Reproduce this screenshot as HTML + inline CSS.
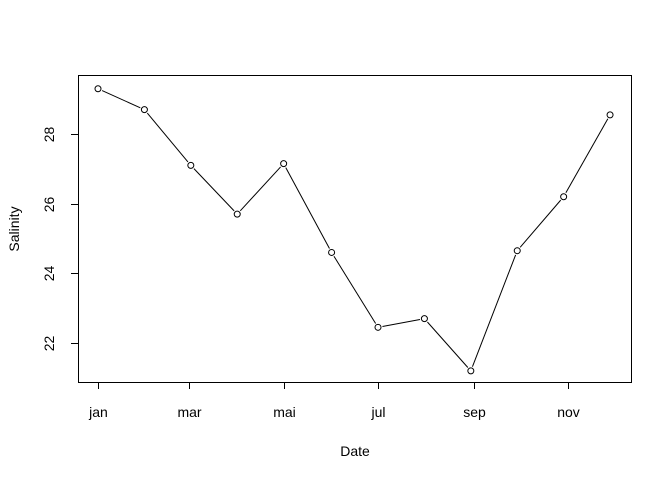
<!DOCTYPE html>
<html><head><meta charset="utf-8"><style>
body{margin:0;background:#fff}
svg{display:block;font-family:"Liberation Sans",Arial,sans-serif}
</style></head><body>
<svg id="chart" width="672" height="480" viewBox="0 0 672 480">
<rect x="78.5" y="75.5" width="553" height="307" fill="none" stroke="#000"/>
<g id="xaxis"></g>
<g id="yaxis"></g>
<g id="series"></g>
<text x="355" y="456" text-anchor="middle" font-size="14">Date</text>
<text x="19" y="229" text-anchor="middle" font-size="14" transform="rotate(-90 19 229)">Salinity</text>
</svg>
<script>
const sampleDays = [0, 30, 60, 90, 120, 151, 181, 211, 241, 271, 301, 331];
const salinity = [29.3, 28.7, 27.1, 25.7, 27.15, 24.6, 22.45, 22.7, 21.2, 24.65, 26.2, 28.55];
const xTickLabels = ["jan","mar","mai","jul","sep","nov"];
const xTickDays = [0, 59, 120, 181, 243, 304];
const yTicks = [22, 24, 26, 28];

const NS = "http://www.w3.org/2000/svg";
function xs(d){ return 98 + d * 1.547; }
function ys(v){ return 343 - (v - 22) * 34.83; }
function mk(tag, attrs, parent){
  const e = document.createElementNS(NS, tag);
  for (const k in attrs) e.setAttribute(k, attrs[k]);
  parent.appendChild(e); return e;
}
const xa = document.getElementById("xaxis");
const ya = document.getElementById("yaxis");
const se = document.getElementById("series");

xTickLabels.forEach((l, i) => {
  const x = Math.round(xs(xTickDays[i])) + 0.5;
  const t = mk("line", {x1:x, x2:x, y1:382, y2:389, stroke:"#000"}, xa);
  
  
  const tx = mk("text", {x:x, y:417, "text-anchor":"middle", "font-size":14}, xa);
  tx.textContent = l;
  
  
});
yTicks.forEach(v => {
  const y = Math.round(ys(v)) + 0.5;
  const t = mk("line", {x1:71, x2:78.5, y1:y, y2:y, stroke:"#000"}, ya);
  
  
  const tx = mk("text", {x:54, y:y, "text-anchor":"middle", "font-size":14, transform:`rotate(-90 54 ${y})`}, ya);
  tx.textContent = v;
  
  
});
const pts = salinity.map((v,i) => [xs(sampleDays[i]), ys(v)]);
for (let i = 0; i < pts.length - 1; i++) {
  const [x1,y1] = pts[i], [x2,y2] = pts[i+1];
  const d = Math.hypot(x2-x1, y2-y1), g = 4.5/d;
  const l = mk("line", {x1:x1+(x2-x1)*g, y1:y1+(y2-y1)*g, x2:x2-(x2-x1)*g, y2:y2-(y2-y1)*g, stroke:"#000"}, se);
  
  
}
pts.forEach(([x,y]) => {
  const c = mk("circle", {cx:x, cy:y, r:3, fill:"#fff", stroke:"#000"}, se);
  
  
});
</script>
</body></html>
